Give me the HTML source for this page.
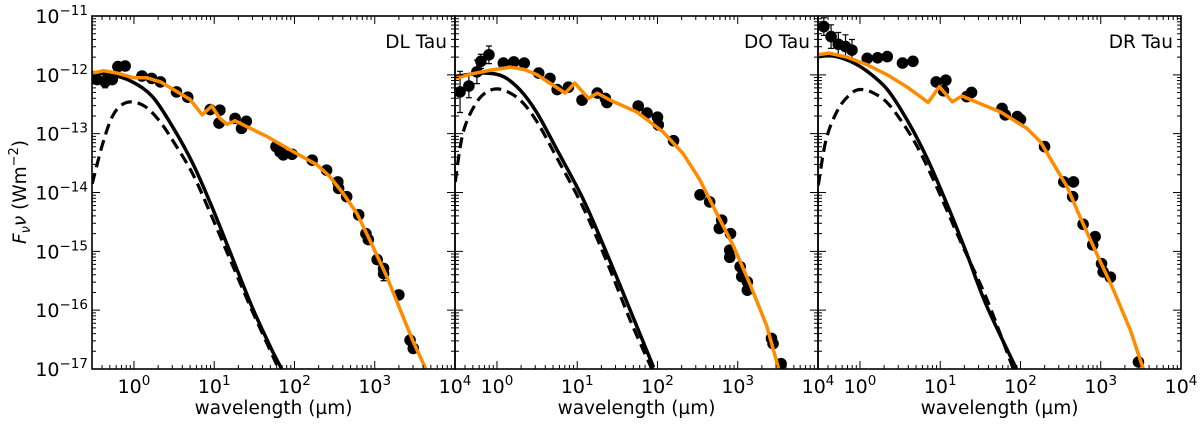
<!DOCTYPE html>
<html><head><meta charset="utf-8"><style>
body{margin:0;background:#fff}
svg{display:block;font-family:"DejaVu Sans","Liberation Sans",sans-serif}
</style></head><body>
<svg id="c" width="1200" height="424" viewBox="0 0 1200 424"></svg>
<script>
// ---- data (log10 wavelength [um], log10 flux [W m^-2]) ----
const panelNames = ["DL Tau","DO Tau","DR Tau"];
const xTickLabels = ["0","1","2","3","4"];
const yTickLabels = ["-11","-12","-13","-14","-15","-16","-17"];

const p1PtsX = [-0.46,-0.36,-0.27,-0.20,-0.11,0.10,0.22,0.33,0.53,0.67,0.95,1.07,1.06,1.26,1.34,1.40,1.77,1.82,1.86,1.97,2.22,2.40,2.54,2.55,2.65,2.80,2.89,2.92,3.03,3.11,3.11,3.30,3.44,3.48];
const p1PtsY = [-12.08,-12.12,-12.08,-11.86,-11.85,-12.02,-12.06,-12.12,-12.29,-12.38,-12.59,-12.60,-12.82,-12.74,-12.91,-12.79,-13.22,-13.31,-13.36,-13.35,-13.45,-13.62,-13.82,-13.93,-14.07,-14.38,-14.70,-14.80,-15.14,-15.29,-15.38,-15.74,-16.51,-16.65];
const p1Err = [0.06,0.1,0.06,0.05,0.06,0,0,0,0,0,0,0,0,0,0,0,0,0,0,0,0,0,0,0,0,0,0,0,0,0,0.12,0.06,0,0];
const p1ModX = [-0.51,-0.38,-0.21,0.0,0.16,0.33,0.54,0.70,0.85,0.97,1.07,1.16,1.26,1.36,1.66,1.99,2.28,2.44,2.61,2.78,2.94,3.15,3.32,3.48,3.64];
const p1ModY = [-11.97,-11.93,-11.97,-12.05,-12.05,-12.12,-12.29,-12.42,-12.68,-12.53,-12.74,-12.84,-12.78,-12.85,-13.05,-13.31,-13.53,-13.73,-14.02,-14.36,-14.81,-15.43,-16.0,-16.54,-17.01];
const p1StarX = [-0.52,-0.27,-0.02,0.23,0.48,0.73,0.97,1.22,1.47,1.72,1.85];
const p1StarY = [-11.96,-12.0,-12.12,-12.37,-12.88,-13.50,-14.24,-15.09,-15.94,-16.68,-17.02];
const p1BbX = [-0.52,-0.39,-0.27,-0.15,-0.02,0.14,0.31,0.48,0.73,0.97,1.22,1.47,1.81];
const p1BbY = [-13.85,-13.17,-12.71,-12.51,-12.46,-12.54,-12.77,-13.11,-13.68,-14.41,-15.21,-16.0,-17.02];

const p2PtsX = [-0.46,-0.35,-0.25,-0.20,-0.10,0.08,0.21,0.34,0.52,0.66,0.75,0.89,1.06,1.25,1.35,1.37,1.76,1.87,2.0,2.01,2.20,2.53,2.65,2.80,2.77,2.91,2.90,2.90,3.03,3.05,3.12,3.12,3.42,3.44,3.54];
const p2PtsY = [-12.29,-12.19,-11.95,-11.77,-11.66,-11.80,-11.78,-11.80,-11.97,-12.06,-12.25,-12.21,-12.43,-12.31,-12.40,-12.47,-12.53,-12.65,-12.72,-12.85,-13.12,-14.04,-14.16,-14.47,-14.61,-14.70,-14.98,-15.10,-15.26,-15.43,-15.52,-15.66,-16.48,-16.57,-16.91];
const p2Err = [0.35,0.2,0.2,0.12,0.15,0,0,0,0,0,0,0,0,0,0,0,0,0,0,0,0,0,0,0,0,0,0,0,0,0,0,0,0,0,0];
const p2ModX = [-0.52,-0.33,-0.08,0.17,0.34,0.50,0.66,0.85,0.97,1.14,1.25,1.41,1.74,2.07,2.32,2.53,2.74,2.95,3.15,3.36,3.51];
const p2ModY = [-12.06,-11.99,-11.92,-11.87,-11.91,-12.0,-12.14,-12.31,-12.14,-12.40,-12.31,-12.43,-12.63,-12.97,-13.34,-13.79,-14.36,-14.92,-15.55,-16.26,-17.0];
const p2StarX = [-0.52,-0.33,-0.13,0.08,0.29,0.50,0.75,1.08,1.37,1.66,1.95];
const p2StarY = [-12.03,-11.99,-11.97,-12.03,-12.26,-12.65,-13.28,-14.13,-15.04,-16.0,-16.97];
const p2BbX = [-0.52,-0.42,-0.25,-0.08,0.08,0.29,0.50,0.75,1.08,1.37,1.66,1.93];
const p2BbY = [-13.82,-12.97,-12.46,-12.26,-12.26,-12.43,-12.80,-13.42,-14.27,-15.18,-16.17,-17.0];

const p3PtsX = [-0.45,-0.36,-0.27,-0.18,-0.10,0.09,0.22,0.34,0.53,0.66,0.95,1.07,1.04,1.33,1.39,1.77,1.81,1.96,2.0,2.30,2.54,2.66,2.65,2.78,2.93,2.90,3.01,3.03,3.12,3.47];
const p3PtsY = [-11.18,-11.35,-11.48,-11.52,-11.58,-11.72,-11.71,-11.69,-11.80,-11.77,-12.12,-12.09,-12.27,-12.37,-12.30,-12.57,-12.68,-12.71,-12.76,-13.22,-13.82,-13.82,-14.07,-14.54,-14.75,-14.89,-15.21,-15.35,-15.44,-16.88];
const p3Err = [0.15,0.2,0.2,0.2,0.18,0,0,0,0,0,0,0,0,0,0,0,0,0,0,0,0,0,0,0,0,0,0,0,0,0];
const p3ModX = [-0.52,-0.39,-0.16,0.09,0.34,0.59,0.75,0.85,0.99,1.15,1.27,1.50,1.75,2.08,2.25,2.41,2.58,2.74,2.95,3.16,3.37,3.53];
const p3ModY = [-11.66,-11.63,-11.70,-11.83,-12.0,-12.21,-12.37,-12.47,-12.20,-12.46,-12.36,-12.49,-12.63,-12.91,-13.14,-13.51,-13.90,-14.41,-15.04,-15.66,-16.34,-17.0];
const p3StarX = [-0.52,-0.33,-0.12,0.09,0.34,0.58,0.83,1.07,1.32,1.57,1.95];
const p3StarY = [-11.69,-11.68,-11.77,-11.94,-12.25,-12.75,-13.40,-14.15,-15.0,-15.9,-17.0];
const p3BbX = [-0.52,-0.42,-0.27,-0.12,0.0,0.17,0.37,0.66,0.91,1.24,1.58,1.91];
const p3BbY = [-13.88,-13.09,-12.58,-12.33,-12.25,-12.31,-12.52,-13.09,-13.77,-14.79,-15.81,-17.0];

const panels = [
 {ptsX:p1PtsX,ptsY:p1PtsY,err:p1Err,modX:p1ModX,modY:p1ModY,starX:p1StarX,starY:p1StarY,bbX:p1BbX,bbY:p1BbY},
 {ptsX:p2PtsX,ptsY:p2PtsY,err:p2Err,modX:p2ModX,modY:p2ModY,starX:p2StarX,starY:p2StarY,bbX:p2BbX,bbY:p2BbY},
 {ptsX:p3PtsX,ptsY:p3PtsY,err:p3Err,modX:p3ModX,modY:p3ModY,starX:p3StarX,starY:p3StarY,bbX:p3BbX,bbY:p3BbY}
];

// ---- layout ----
const NS="http://www.w3.org/2000/svg";
const svg=document.getElementById('c');
const topY=16, botY=369, W=363, lefts=[92,455,818];
const xmin=Math.log10(0.3), xmax=4, ymin=-17, ymax=-11;
function mk(t,a,p){const e=document.createElementNS(NS,t);for(const k in a)e.setAttribute(k,a[k]);(p||svg).appendChild(e);return e;}
function yS(v){return botY-(v-ymin)/(ymax-ymin)*(botY-topY);}
function smoothPath(P){
  let d='M'+P[0][0].toFixed(1)+','+P[0][1].toFixed(1);
  for(let k=0;k<P.length-1;k++){
    const p0=P[k-1]||P[k],p1=P[k],p2=P[k+1],p3=P[k+2]||P[k+1];
    const c1=[p1[0]+(p2[0]-p0[0])/6,p1[1]+(p2[1]-p0[1])/6];
    const c2=[p2[0]-(p3[0]-p1[0])/6,p2[1]-(p3[1]-p1[1])/6];
    d+=`C${c1[0].toFixed(1)},${c1[1].toFixed(1)} ${c2[0].toFixed(1)},${c2[1].toFixed(1)} ${p2[0].toFixed(1)},${p2[1].toFixed(1)}`;
  }
  return d;
}

const defs=mk('defs',{});
panels.forEach((P,i)=>{
  const L=lefts[i];
  const xS=v=>L+(v-xmin)/(xmax-xmin)*W;
  const g=mk('g',{});
  
  
  const cp=mk('clipPath',{id:'cp'+i},defs);
  mk('rect',{x:L,y:topY,width:W,height:botY-topY},cp);
  const cg=mk('g',{'clip-path':'url(#cp'+i+')'},g);
  const line=(xs,ys,attrs,name,smooth)=>{
    const pts=xs.map((x,k)=>[xS(x),yS(ys[k])]);
    const d=smooth?smoothPath(pts):pts.map((p,k)=>(k?'L':'M')+p[0].toFixed(1)+','+p[1].toFixed(1)).join('');
    const p=mk('path',Object.assign({d:d,fill:'none','stroke-linejoin':'round'},attrs),cg);
    
    
  };
  line(P.bbX,P.bbY,{stroke:'#000','stroke-width':3.2,'stroke-dasharray':'11,6'},'scattered-light-dashed',true);
  line(P.starX,P.starY,{stroke:'#000','stroke-width':3.5},'photosphere-line',true);
  P.ptsX.forEach((x,k)=>{
    const cx=xS(x), cy=yS(P.ptsY[k]);
    if(P.err[k]>0){
      const e1=yS(P.ptsY[k]+P.err[k]), e2=yS(P.ptsY[k]-P.err[k]);
      mk('path',{d:`M${cx},${e1}L${cx},${e2}M${cx-3},${e1}L${cx+3},${e1}M${cx-3},${e2}L${cx+3},${e2}`,stroke:'#000','stroke-width':1.2,fill:'none'},cg);
    }
    const c=mk('circle',{cx:cx,cy:cy,r:5.8,fill:'#000'},cg);
    
    
  });
  line(P.modX,P.modY,{stroke:'#ff8c00','stroke-width':3.5},'model-sed-line',false);
  mk('rect',{x:L,y:topY,width:W,height:botY-topY,fill:'none',stroke:'#000','stroke-width':1.6},g);
  let tk='';
  for(let d=-1;d<=4;d++){
    for(let m=1;m<=9;m++){
      const v=d+Math.log10(m); if(v<xmin-1e-9||v>xmax+1e-9) continue;
      const x=xS(v), len=m===1?8:4;
      tk+=`M${x},${botY}L${x},${botY-len}M${x},${topY}L${x},${topY+len}`;
    }
  }
  for(let d=-17;d<=-11;d++){
    for(let m=1;m<=9;m++){
      const v=d+Math.log10(m); if(v>ymax+1e-9) continue;
      const y=yS(v), len=m===1?8:4;
      tk+=`M${L},${y}L${L+len},${y}M${L+W},${y}L${L+W-len},${y}`;
    }
  }
  mk('path',{d:tk,stroke:'#000','stroke-width':1,fill:'none'},g);
  xTickLabels.forEach(s=>{
    const t=mk('text',{x:xS(+s),y:botY+24,'text-anchor':'middle','font-size':19},g);
    
    
    t.innerHTML='10<tspan dy="-8" font-size="13.5">'+s+'</tspan>';
  });
  const xt=mk('text',{x:L+W/2,y:botY+45,'text-anchor':'middle','font-size':18.5},g);
  
  
  xt.textContent='wavelength (µm)';
  const nm=mk('text',{x:L+W-8,y:48,'text-anchor':'end','font-size':18.5},g);
  
  
  nm.textContent=panelNames[i];
  if(i===0){
    yTickLabels.forEach(s=>{
      const t=mk('text',{x:L-4,y:yS(+s)+7,'text-anchor':'end','font-size':19},g);
      
      
      t.innerHTML='10<tspan dy="-8" font-size="13.5">−'+s.slice(1)+'</tspan>';
    });
  }
});
const yt=mk('text',{x:0,y:0,'text-anchor':'middle','font-size':18.5,transform:'translate(26,192) rotate(-90)'});


yt.innerHTML='<tspan font-style="italic">F</tspan><tspan font-style="italic" font-size="13" dy="4">ν</tspan><tspan font-style="italic" dy="-4">ν</tspan>  (Wm<tspan dy="-8" font-size="13">−2</tspan><tspan dy="8">)</tspan>';
</script>
</body></html>
